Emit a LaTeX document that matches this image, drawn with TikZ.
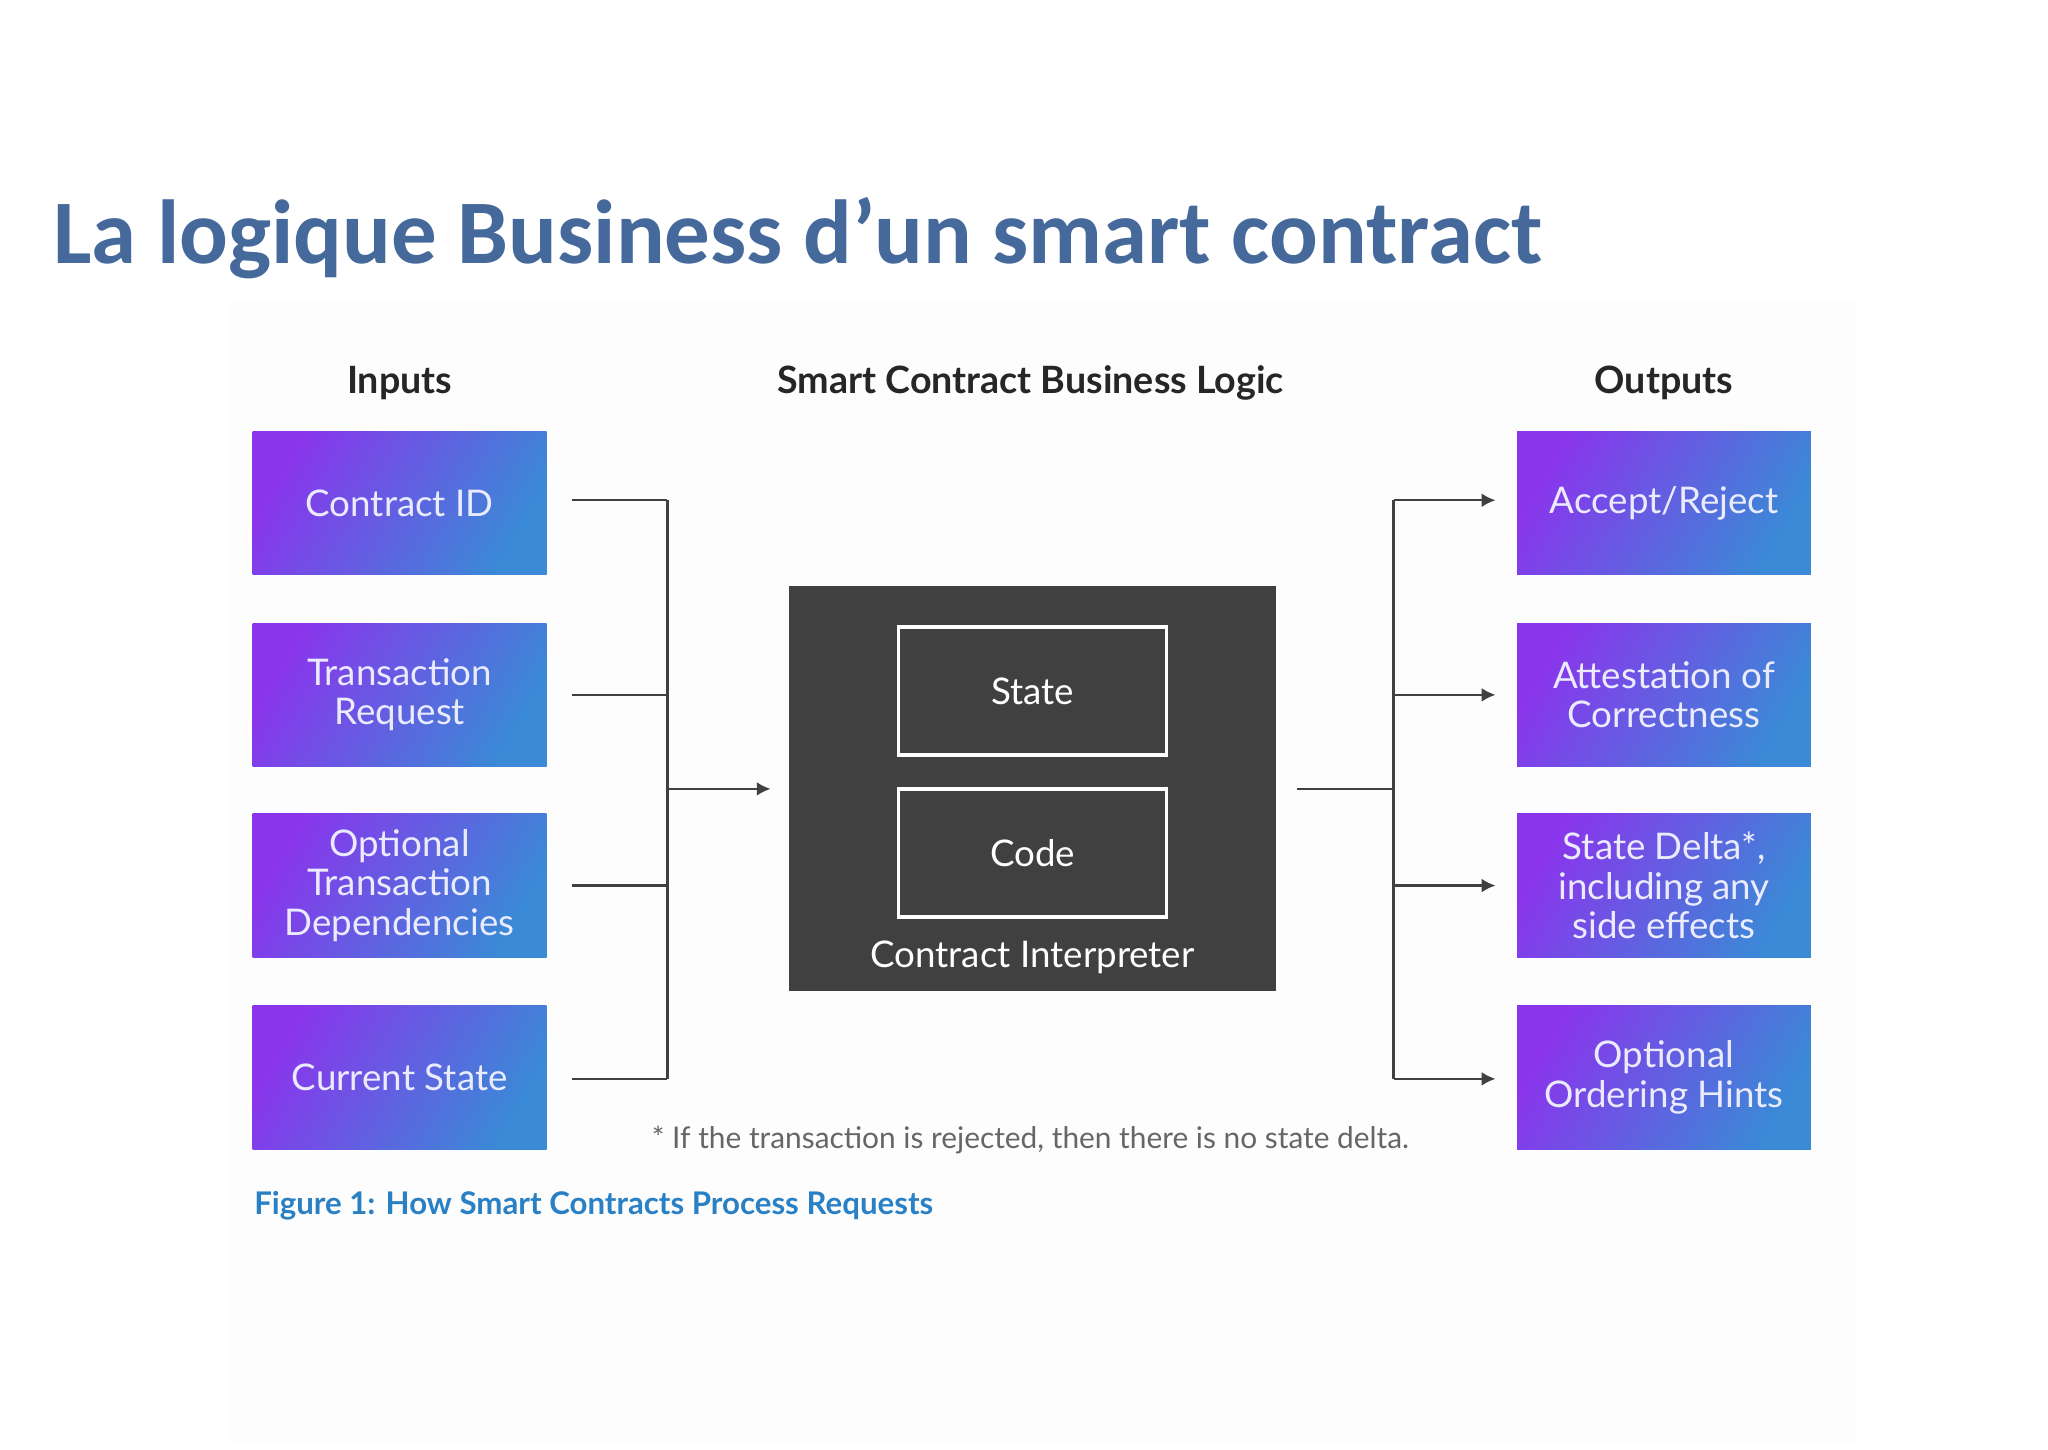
\documentclass[tikz,border=0pt]{standalone}
\usepackage{fontspec}
\setmainfont{Lato}
\newfontfamily\titlefont{Carlito}
\usetikzlibrary{arrows.meta}
\definecolor{titleblue}{HTML}{44699A}
\definecolor{boxpurple}{HTML}{8A35EC}
\definecolor{boxblue}{HTML}{3A8AD6}
\definecolor{darkbox}{HTML}{404040}
\definecolor{capblue}{HTML}{2A80C4}
\begin{document}
\begin{tikzpicture}[x=0.1mm,y=-0.1mm,
  gbox/.style={minimum width=22.5mm,minimum height=11mm,inner sep=0pt,
    shading=axis,left color=boxpurple,right color=boxblue,shading angle=60,
    text=white!92!blue,align=center,font=\fontsize{8}{8.6}\selectfont},
  wbox/.style={draw=white,line width=0.7pt,minimum width=20.5mm,minimum height=9.8mm,
    text=white,font=\fontsize{8}{9}\selectfont},
  hdr/.style={font=\bfseries\fontsize{8.2}{9}\selectfont,text=black!85},
  conn/.style={draw=black!75,line width=0.5pt},
  arr/.style={conn,-{Latex[length=3pt,width=3pt]}}]
\useasboundingbox (0,0) rectangle (1568,1110);
\fill[black!0.6] (175,230) rectangle (1420,1105);
\node[anchor=west,inner sep=0pt,text=titleblue,font=\titlefont\bfseries\fontsize{19.8}{21}\selectfont] (title) at (40,182) {La logique Business d’un smart contract};
\node[hdr] (hin) at (306,293) {Inputs};
\node[hdr] (hmid) at (789,293) {Smart Contract Business Logic};
\node[hdr] (hout) at (1274,293) {Outputs};
\node[gbox] (i1) at (306,385) {Contract ID};
\node[gbox] (i2) at (306,532) {Transaction\\Request};
\node[gbox] (i3) at (306,678) {Optional\\Transaction\\Dependencies};
\node[gbox] (i4) at (306,825) {Current State};
\node[gbox] (o1) at (1274,385) {Accept/Reject};
\node[gbox] (o2) at (1274,532) {Attestation of\\Correctness};
\node[gbox] (o3) at (1274,678) {State Delta*,\\including any\\side effects};
\node[gbox] (o4) at (1274,825) {Optional\\Ordering Hints};
\node[fill=darkbox,minimum width=37.3mm,minimum height=31mm,inner sep=0pt] (ci) at (790.5,604) {};
\node[wbox] (st) at (790.5,529) {State};
\node[wbox] (cd) at (790.5,653) {Code};
\node[text=white,font=\fontsize{8}{9}\selectfont] (cil) at (790.5,733) {Contract Interpreter};
% inputs
\coordinate (jl) at (511,604);
\foreach \n/\y in {1/383,2/532,3/678,4/826}{
  \coordinate (s\n) at (438,\y); \coordinate (v\n) at (511,\y);
  \draw[conn] (s\n) -- (v\n);
  \coordinate (e\n) at (1145,\y); \coordinate (w\n) at (1067,\y);
  \draw[arr] (w\n) -- (e\n);
}
\draw[conn] (v1) -- (v4);
\coordinate (ain) at (590,604);
\draw[arr] (jl) -- (ain);
\coordinate (aout) at (993,604);
\coordinate (jr) at (1067,604);
\draw[conn] (aout) -- (jr);
\draw[conn] (w1) -- (w4);
\node[text=black!60,font=\fontsize{6.5}{7}\selectfont] (fn) at (789,873) {* If the transaction is rejected, then there is no state delta.};
\node[anchor=west,inner sep=0pt,text=capblue,font=\bfseries\fontsize{6.8}{7}\selectfont] (cap) at (194,923) {Figure 1: How Smart Contracts Process Requests};
\end{tikzpicture}
\end{document}
